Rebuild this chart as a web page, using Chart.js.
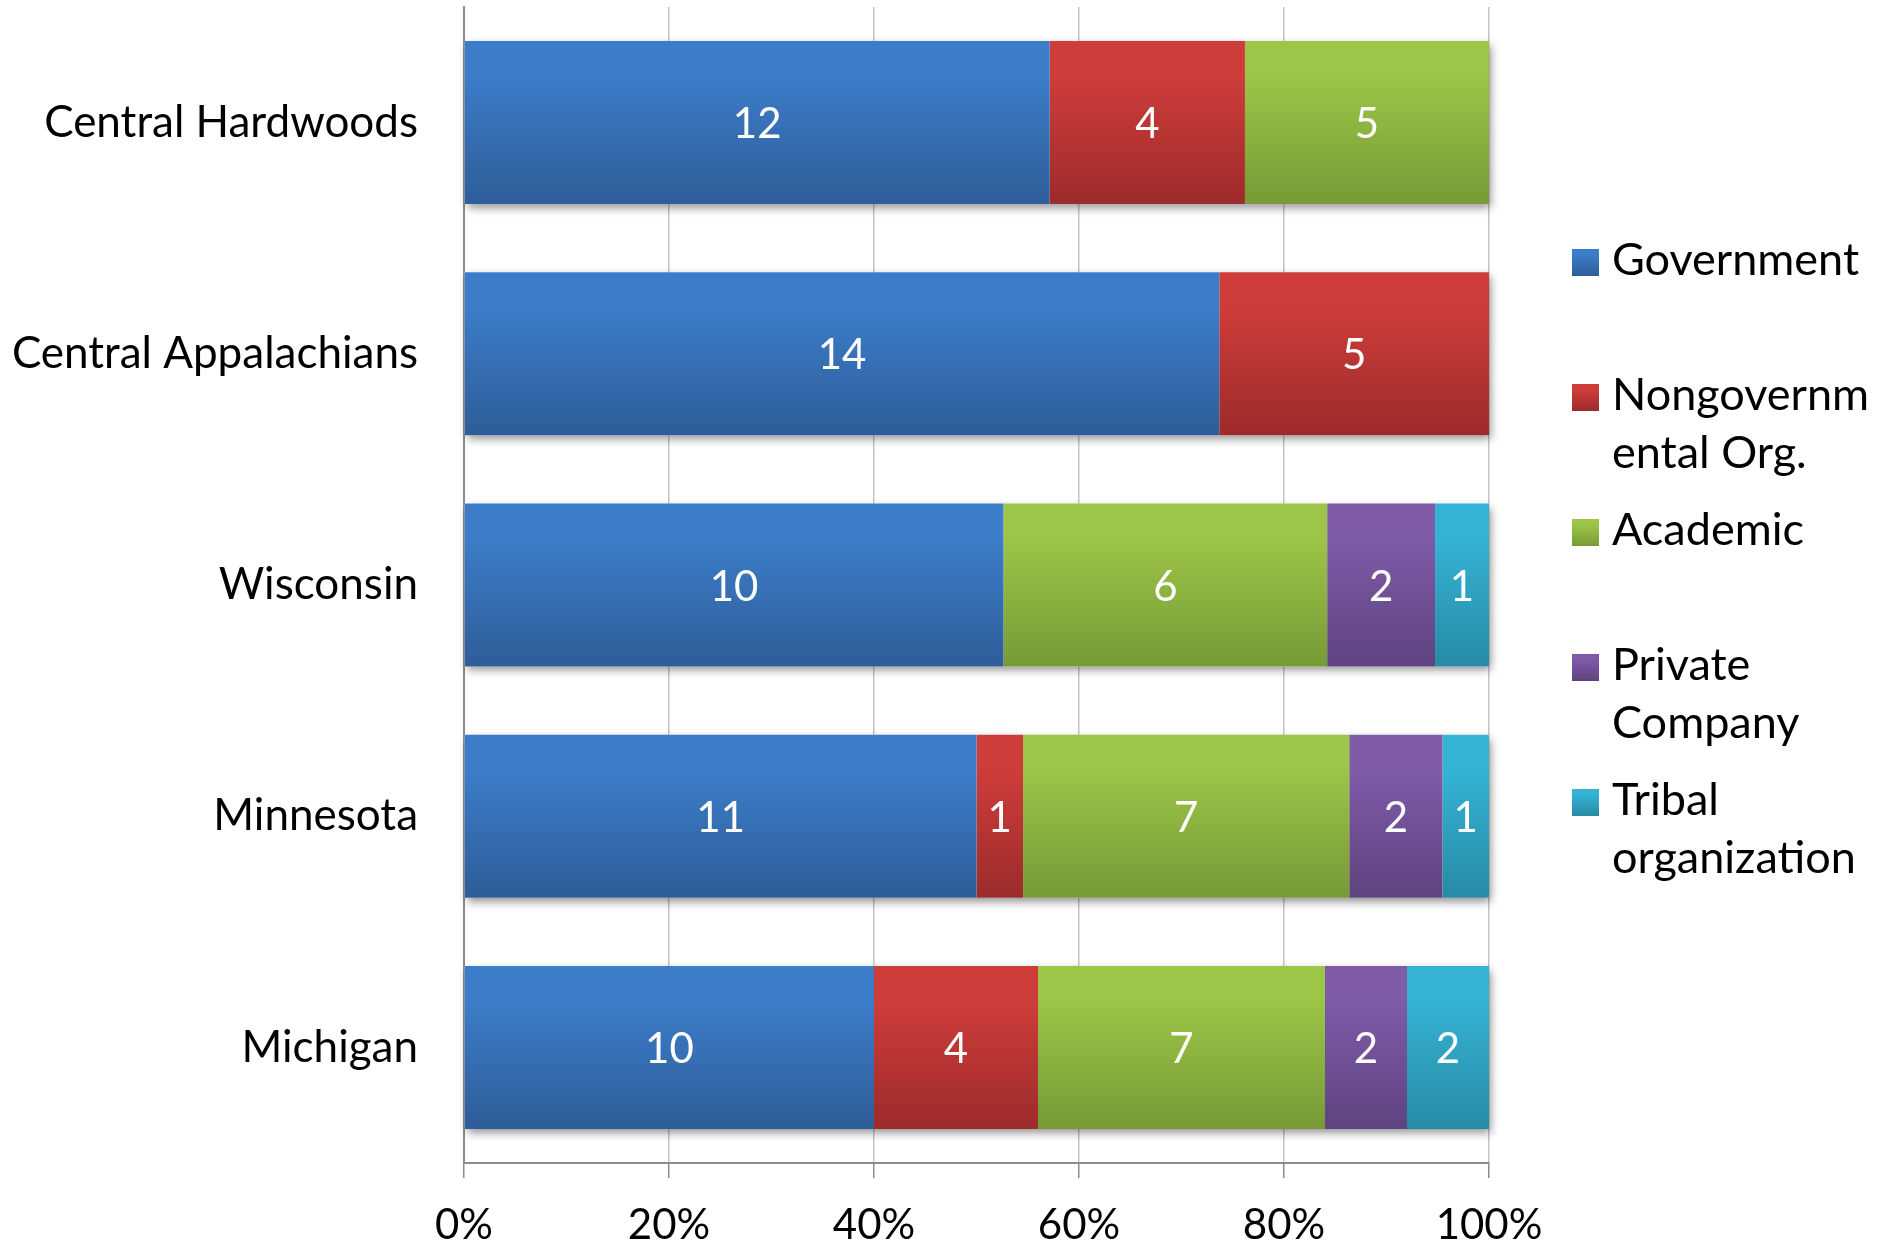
<!DOCTYPE html>
<html lang="en">
<head>
<meta charset="utf-8">
<title>Partner organizations by region</title>
<script src="https://cdn.jsdelivr.net/npm/chart.js@4.4.1/dist/chart.umd.min.js"></script>
<style>
    html, body { margin: 0; padding: 0; background: #ffffff; }
    #wrap { width: 1884px; height: 1248px; }
</style>
</head>
<body>
<div id="wrap"><canvas id="partners-chart" width="1884" height="1248"></canvas></div>
<script>
// Number of partner organizations per region, by type
const regions = ['Central Hardwoods', 'Central Appalachians', 'Wisconsin', 'Minnesota', 'Michigan'];
const government      = [12, 14, 10, 11, 10];
const nongovernmental = [4, 5, 0, 1, 4];
const academic        = [5, 0, 6, 7, 7];
const privateCompany  = [0, 0, 2, 2, 2];
const tribal          = [0, 0, 1, 1, 2];

const seriesNames = ['Government', 'Nongovernmental Org.', 'Academic', 'Private Company', 'Tribal organization'];
// legend text, broken the way the legend box wraps it
const legendLines = [['Government'], ['Nongovernm', 'ental Org.'], ['Academic'], ['Private', 'Company'], ['Tribal', 'organization']];
const shareTicks = [0, 20, 40, 60, 80, 100];

// top / bottom colour of each series gradient
const seriesColors = [
    ['#3c7dca', '#2e5d98'],
    ['#cf3d3a', '#9c2b2b'],
    ['#9dc547', '#779a37'],
    ['#7f5ba8', '#5f4380'],
    ['#35b3d5', '#268ba5']
];

const FONT = 'Lato, "Noto Sans", sans-serif';
const BAR_PCT = 0.705;

const counts = [government, nongovernmental, academic, privateCompany, tribal];
const totals = regions.map((r, j) => counts.reduce((sum, s) => sum + s[j], 0));

function toShare(series) {
    return series.map((v, j) => v / totals[j] * 100);
}

function verticalGradient(ctx, pair, top, bottom) {
    const g = ctx.createLinearGradient(0, top, 0, bottom);
    g.addColorStop(0, pair[0]);
    g.addColorStop(0.2, pair[0]);
    g.addColorStop(1, pair[1]);
    return g;
}

function barFill(pair) {
    return function(context) {
        const chart = context.chart;
        const yScale = chart.scales.y;
        if (!chart.chartArea || !yScale) {
            return pair[0];
        }
        const cy = yScale.getPixelForValue(context.dataIndex);
        const step = Math.abs(yScale.getPixelForValue(1) - yScale.getPixelForValue(0));
        const half = step * BAR_PCT / 2;
        return verticalGradient(chart.ctx, pair, cy - half, cy + half);
    };
}

// soft drop shadow under every stacked bar
const barShadow = {
    id: 'barShadow',
    beforeDatasetsDraw(chart) {
        const ctx = chart.ctx;
        const metas = chart.data.datasets.map((d, i) => chart.getDatasetMeta(i));
        ctx.save();
        ctx.shadowColor = 'rgba(0, 0, 0, 0.45)';
        ctx.shadowBlur = 9;
        ctx.shadowOffsetX = 2;
        ctx.shadowOffsetY = 4;
        ctx.fillStyle = '#ffffff';
        regions.forEach((r, j) => {
            let left = Infinity, right = -Infinity, top = 0, bottom = 0;
            metas.forEach(meta => {
                const p = meta.data[j].getProps(['x', 'y', 'base', 'height'], true);
                left = Math.min(left, p.base, p.x);
                right = Math.max(right, p.base, p.x);
                top = p.y - p.height / 2;
                bottom = p.y + p.height / 2;
            });
            ctx.fillRect(left, top, right - left, bottom - top);
        });
        ctx.restore();
    }
};

// counts written in the middle of each segment
const segmentLabels = {
    id: 'segmentLabels',
    afterDatasetsDraw(chart) {
        const ctx = chart.ctx;
        ctx.save();
        ctx.fillStyle = '#ffffff';
        ctx.font = '42px ' + FONT;
        ctx.textAlign = 'center';
        ctx.textBaseline = 'middle';
        chart.data.datasets.forEach((ds, i) => {
            chart.getDatasetMeta(i).data.forEach((el, j) => {
                const n = ds.counts[j];
                if (!n) return;
                const p = el.getProps(['x', 'y', 'base'], true);
                ctx.fillText(String(n), (p.x + p.base) / 2, p.y + 2);
            });
        });
        ctx.restore();
    }
};

// legend on the right, with wrapped entries
const sideLegend = {
    id: 'sideLegend',
    afterDraw(chart) {
        const ctx = chart.ctx;
        const boxX = 1572, box = 27, textX = 1612;
        const firstBaseline = 275, itemStep = 135, lineStep = 58;
        ctx.save();
        ctx.font = '45px ' + FONT;
        ctx.textAlign = 'left';
        ctx.textBaseline = 'alphabetic';
        legendLines.forEach((lines, i) => {
            const base = firstBaseline + i * itemStep;
            const top = base - box + 1;
            ctx.fillStyle = verticalGradient(ctx, seriesColors[i], top, top + box);
            ctx.fillRect(boxX, top, box, box);
            ctx.fillStyle = '#000000';
            lines.forEach((line, k) => ctx.fillText(line, textX, base + k * lineStep));
        });
        ctx.restore();
    }
};

function buildDatasets() {
    return counts.map((series, i) => ({
        label: seriesNames[i],
        data: toShare(series),
        counts: series,
        backgroundColor: barFill(seriesColors[i]),
        borderWidth: 0,
        barPercentage: BAR_PCT,
        categoryPercentage: 1
    }));
}

document.addEventListener('DOMContentLoaded', function() {
    const ctx = document.getElementById('partners-chart').getContext('2d');
    new Chart(ctx, {
        type: 'bar',
        data: {
            labels: regions,
            datasets: buildDatasets()
        },
        options: {
            indexAxis: 'y',
            responsive: false,
            animation: false,
            layout: { padding: { top: 7, right: 395, left: 0, bottom: 0 } },
            plugins: {
                legend: { display: false },
                tooltip: { enabled: false }
            },
            scales: {
                x: {
                    stacked: true,
                    min: 0,
                    max: 100,
                    afterBuildTicks: scale => {
                        scale.ticks = shareTicks.map(v => ({ value: v }));
                    },
                    afterFit: scale => {
                        scale.height = 85;
                        scale.paddingLeft = 0;
                        scale.paddingRight = 0;
                    },
                    grid: {
                        color: '#c4c4c4',
                        lineWidth: 1.5,
                        tickColor: '#8c8c8c',
                        tickLength: 15
                    },
                    border: { display: true, color: '#8c8c8c', width: 2 },
                    ticks: {
                        color: '#000000',
                        font: { family: FONT, size: 42 },
                        padding: 22,
                        maxRotation: 0,
                        callback: v => v + '%'
                    }
                },
                y: {
                    stacked: true,
                    afterFit: scale => {
                        scale.width = 464;
                        scale.paddingTop = 0;
                        scale.paddingBottom = 0;
                    },
                    grid: { display: false, drawTicks: false },
                    border: { display: true, color: '#8c8c8c', width: 2 },
                    ticks: {
                        color: '#000000',
                        font: { family: FONT, size: 44 },
                        padding: 46
                    }
                }
            }
        },
        plugins: [barShadow, segmentLabels, sideLegend]
    });
});
</script>
</body>
</html>
